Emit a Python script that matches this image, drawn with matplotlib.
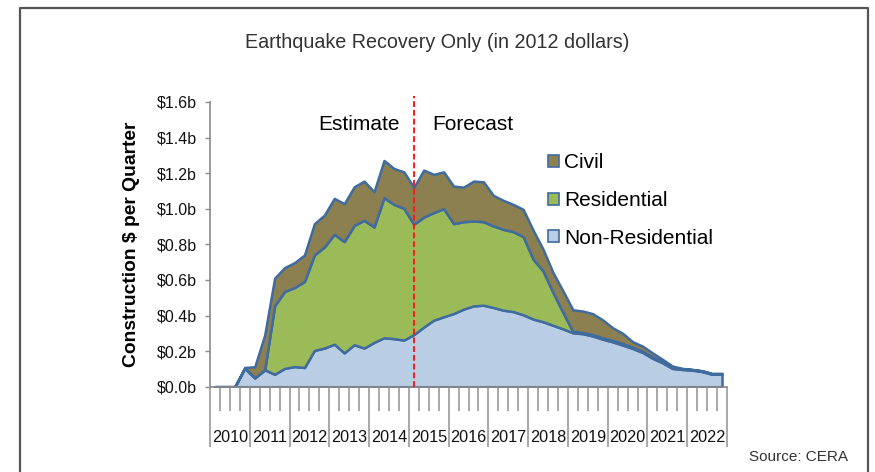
import matplotlib
matplotlib.use("Agg")
import matplotlib.pyplot as plt
from matplotlib.patches import Patch
from matplotlib.lines import Line2D
import numpy as np

plt.rcParams['font.family'] = ['Liberation Sans', 'DejaVu Sans']

# Quarterly construction value, 2010 Q1 - 2022 Q4, $ billions (2012 dollars)
years = [2010, 2011, 2012, 2013, 2014, 2015, 2016, 2017, 2018, 2019, 2020, 2021, 2022]

non_residential = [
    0.000, 0.000, 0.000, 0.105, 0.050, 0.095, 0.070, 0.103, 0.113, 0.108,
    0.204, 0.217, 0.239, 0.190, 0.236, 0.217, 0.249, 0.275, 0.270, 0.262,
    0.293, 0.335, 0.374, 0.393, 0.411, 0.436, 0.454, 0.458, 0.445, 0.430,
    0.422, 0.404, 0.380, 0.365, 0.345, 0.325, 0.303, 0.298, 0.285, 0.267,
    0.252, 0.234, 0.215, 0.193, 0.160, 0.135, 0.103, 0.097, 0.093, 0.085,
    0.070, 0.070,
]
residential = [
    0.000, 0.000, 0.000, 0.000, 0.000, 0.000, 0.385, 0.432, 0.444, 0.483,
    0.536, 0.568, 0.617, 0.625, 0.670, 0.718, 0.648, 0.787, 0.754, 0.740,
    0.619, 0.618, 0.604, 0.607, 0.505, 0.491, 0.477, 0.469, 0.458, 0.454,
    0.449, 0.439, 0.336, 0.285, 0.184, 0.092, 0.007, 0.007, 0.007, 0.008,
    0.008, 0.008, 0.007, 0.007, 0.007, 0.006, 0.004, 0.003, 0.003, 0.003,
    0.002, 0.002,
]
civil = [
    0.000, 0.000, 0.000, 0.003, 0.062, 0.195, 0.155, 0.134, 0.140, 0.149,
    0.176, 0.179, 0.202, 0.213, 0.217, 0.220, 0.198, 0.209, 0.202, 0.205,
    0.208, 0.264, 0.215, 0.207, 0.211, 0.194, 0.224, 0.224, 0.172, 0.163,
    0.153, 0.153, 0.163, 0.122, 0.112, 0.121, 0.122, 0.120, 0.118, 0.100,
    0.071, 0.058, 0.031, 0.028, 0.023, 0.013, 0.009, 0.003, 0.001, 0.002,
    0.003, 0.003,
]
series_labels = ["Non-Residential", "Residential", "Civil"]
series_colors = ["#b9cde5", "#9bbb59", "#8c7f50"]
edge_color = "#3f6b9f"

y_ticks = [0.0, 0.2, 0.4, 0.6, 0.8, 1.0, 1.2, 1.4, 1.6]
forecast_start = 20  # first forecast quarter: 2015 Q1

W, H = 875, 472
fig = plt.figure(figsize=(W / 100, H / 100), dpi=100)
fig.patch.set_facecolor("white")

ax = fig.add_axes([210 / W, 1 - 386.7 / H, (727 - 210) / W, (386.7 - 101.9) / H])

n = len(non_residential)
x = np.arange(n)
ax.stackplot(x, non_residential, residential, civil,
             colors=series_colors, edgecolor=edge_color, linewidth=1.8,
             labels=series_labels)

ax.set_xlim(-0.5, n - 0.5)
ax.set_ylim(0, 1.6)

# y axis
ax.set_yticks(y_ticks)
ax.set_yticklabels([f"${v:.1f}b" for v in y_ticks])
ax.tick_params(axis="y", direction="out", length=3.6, width=1.0,
               color="#8a8a8a", labelsize=11.5, pad=6, labelcolor="#111111")
ax.set_ylabel("Construction $ per Quarter", fontsize=13.9, fontweight="bold",
              labelpad=12)

# x axis: quarter ticks, longer ticks at year boundaries, year labels between
quarter_edges = np.arange(n + 1) - 0.5
year_edges = quarter_edges[::4]
ax.set_xticks(year_edges)
ax.set_xticklabels([])
ax.set_xticks(quarter_edges, minor=True)
ax.tick_params(axis="x", which="major", direction="out", length=43,
               width=1.2, color="#9a9a9a")
ax.tick_params(axis="x", which="minor", direction="out", length=17,
               width=1.2, color="#9a9a9a")
for i, yr in enumerate(years):
    ax.annotate(str(yr), xy=(4 * i + 1.5, 0), xycoords=("data", "axes fraction"),
                xytext=(0, -36.5), textcoords="offset points",
                ha="center", va="center", fontsize=11.7, color="#111111")

for side in ("top", "right"):
    ax.spines[side].set_visible(False)
for side in ("left", "bottom"):
    ax.spines[side].set_color("#8a8a8a")
    ax.spines[side].set_linewidth(1.2)

# estimate / forecast divider
ax.axvline(forecast_start, ymin=0, ymax=1.02, color="#ff1a1a",
           linestyle=(0, (3, 1.5)), linewidth=1.4, zorder=5, clip_on=False)
ax.annotate("Estimate", xy=(forecast_start, 0.922),
            xycoords=("data", "axes fraction"), xytext=(-10, 0),
            textcoords="offset points", ha="right", va="center", fontsize=15)
ax.annotate("Forecast", xy=(forecast_start, 0.922),
            xycoords=("data", "axes fraction"), xytext=(13, 0),
            textcoords="offset points", ha="left", va="center", fontsize=15)

# legend (Civil on top)
handles = [Patch(facecolor=c, edgecolor=edge_color, linewidth=1.2)
           for c in series_colors][::-1]
fig.legend(handles, series_labels[::-1], loc="upper left",
           bbox_to_anchor=(540 / W, 1 - 145 / H), frameon=False,
           fontsize=15, handlelength=0.5, handleheight=0.5,
           handletextpad=0.25, labelspacing=0.9, borderaxespad=0)

fig.suptitle("Earthquake Recovery Only (in 2012 dollars)", x=0.5,
             y=1 - 42 / H, va="center", fontsize=14.2, color="#333333")
fig.text(848 / W, 1 - 457 / H, "Source: CERA", ha="right", va="center",
         fontsize=11, color="#333333")

# outer frame, open at the bottom
fig.add_artist(Line2D([20 / W, 20 / W, 868 / W, 868 / W],
                      [0, 1 - 7.5 / H, 1 - 7.5 / H, 0],
                      transform=fig.transFigure, color="#555555",
                      linewidth=1.6))

fig.savefig("out.png", dpi=100)
